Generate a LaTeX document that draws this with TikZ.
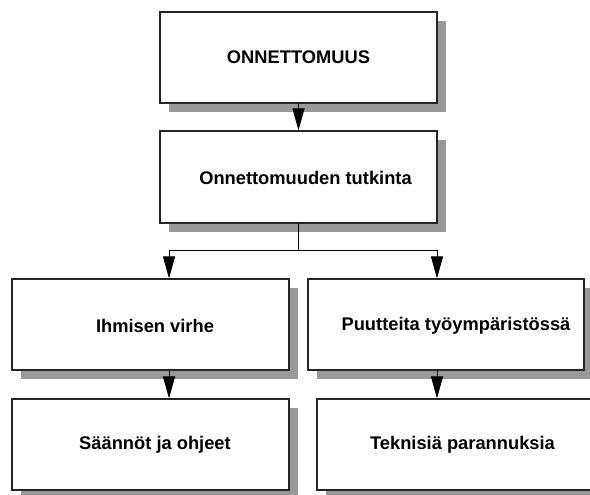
\documentclass[tikz,border=0pt]{standalone}
\usepackage{fontspec}
\setmainfont{Liberation Sans}
\usetikzlibrary{arrows.meta,shadows}

\tikzset{
  box/.style={draw=black!85, line width=1.2pt, fill=white, rectangle,
    minimum width=277pt, minimum height=91pt, inner sep=0pt,
    drop shadow={shadow xshift=9pt, shadow yshift=-9pt, fill=black!40, opacity=1}},
  txt/.style={font=\fontsize{18.3}{21}\selectfont\bfseries},
  link/.style={draw=black, line width=1pt},
  arr/.style={link, -{Triangle[length=22pt, width=12pt]}},
}

\begin{document}
\begin{tikzpicture}[x=1pt, y=-1pt]
  \useasboundingbox (0,0) rectangle (590,495);

  % boxes
  \node[box, label={[txt]center:ONNETTOMUUS}] (acc) at (298.5,57.5) {};
  \node[box, minimum height=92pt, label={[txt, xshift=7pt, yshift=-1pt]center:Onnettomuuden tutkinta}] (inv) at (298.5,177) {};
  \node[box, label={[txt, xshift=4.5pt, yshift=-1pt]center:Ihmisen virhe}] (hum) at (150.5,324.5) {};
  \node[box, minimum width=276pt, label={[txt, xshift=10pt, yshift=-1pt]center:Puutteita työympäristössä}] (env) at (446,324.5) {};
  \node[box, label={[txt, xshift=4.5pt, yshift=-0.5pt]center:Säännöt ja ohjeet}] (rules) at (150.5,444.5) {};
  \node[box, label={[txt, xshift=7pt, yshift=-0.5pt]center:Teknisiä parannuksia}] (tech) at (455.5,444.5) {};

  % connectors
  \coordinate (split) at (298.5,250);
  \draw[arr] (acc) -- (inv);
  \draw[link] (inv) -- (split);
  \draw[arr] (split) -| ([xshift=18.5pt]hum.north);
  \draw[arr] (split) -| ([xshift=-9pt]env.north);
  \draw[arr] ([xshift=18.5pt]hum.south) -- ([xshift=18.5pt]rules.north);
  \draw[arr] ([xshift=-9pt]env.south) -- ([xshift=-18.5pt]tech.north);
\end{tikzpicture}
\end{document}
